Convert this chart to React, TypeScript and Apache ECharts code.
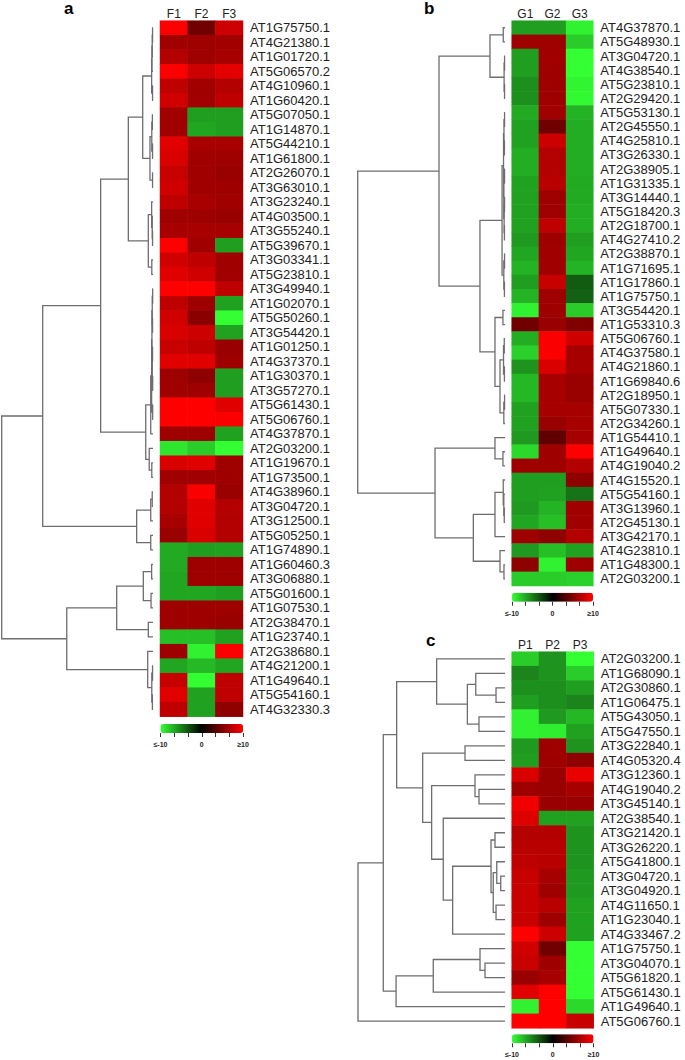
import React, { useEffect, useRef } from 'react';
import * as echarts from 'echarts';

// ---------- Panel a ----------
const condA = ['F1', 'F2', 'F3'];
const genesA = [
  'AT1G75750.1', 'AT4G21380.1', 'AT1G01720.1', 'AT5G06570.2', 'AT4G10960.1', 'AT1G60420.1',
  'AT5G07050.1', 'AT1G14870.1', 'AT5G44210.1', 'AT1G61800.1', 'AT2G26070.1', 'AT3G63010.1',
  'AT3G23240.1', 'AT4G03500.1', 'AT3G55240.1', 'AT5G39670.1', 'AT3G03341.1', 'AT5G23810.1',
  'AT3G49940.1', 'AT1G02070.1', 'AT5G50260.1', 'AT3G54420.1', 'AT1G01250.1', 'AT4G37370.1',
  'AT1G30370.1', 'AT3G57270.1', 'AT5G61430.1', 'AT5G06760.1', 'AT4G37870.1', 'AT2G03200.1',
  'AT1G19670.1', 'AT1G73500.1', 'AT4G38960.1', 'AT3G04720.1', 'AT3G12500.1', 'AT5G05250.1',
  'AT1G74890.1', 'AT1G60460.3', 'AT3G06880.1', 'AT5G01600.1', 'AT1G07530.1', 'AT2G38470.1',
  'AT1G23740.1', 'AT2G38680.1', 'AT4G21200.1', 'AT1G49640.1', 'AT5G54160.1', 'AT4G32330.3',
];
const valsA = [
  [9.8, 4.4, 8.0], [6.3, 6.2, 6.3], [7.0, 6.2, 6.5], [9.8, 8.0, 9.0], [7.5, 6.3, 7.0], [8.2, 6.3, 7.5],
  [6.3, -6.2, -6.2], [6.3, -6.5, -6.2], [8.8, 6.6, 6.6], [8.5, 6.3, 6.2], [7.8, 6.3, 6.0], [8.2, 6.3, 6.2],
  [7.5, 6.6, 6.3], [6.3, 6.2, 6.0], [6.6, 6.6, 6.5], [10, 6.3, -6.2], [8.2, 7.5, 6.3], [8.8, 8.2, 6.3],
  [10, 10, 7.5], [7.5, 6.2, -6.3], [8.2, 5.4, -10], [8.5, 8.0, -6.3], [7.8, 7.5, 6.0], [8.8, 8.8, 6.2],
  [6.2, 5.6, -6.2], [6.3, 6.2, -6.2], [10, 10, 8.8], [10, 10, 9.8], [6.2, 6.2, -6.3], [-9, -8, -10],
  [8.5, 8.8, 6.2], [6.3, 6.3, 6.2], [7.0, 9.8, 6.0], [7.0, 8.8, 7.0], [6.6, 8.8, 7.0], [6.0, 8.5, 7.0],
  [-6.7, -6.2, -6.3], [-6.7, 6.2, 6.2], [-6.5, 6.2, 6.2], [-6.5, -6.5, -6.2], [6.2, 6.2, 6.2], [6.2, 6.2, 6.0],
  [-7.5, -7.5, -6.3], [6.2, -9.5, 9.8], [-6.5, -7.3, -6.5], [7.8, -10, 7.5], [8.8, -6.3, 7.5], [7.5, -6.3, 5.6],
];
// tree node: [height, left, right]; leaf = row number (1-based)
const treeA: any = [100,
  [72.9,
    [34.6,
      [16.3,
        [6.8,
          [0.9, [0.7, [0.5, [0.3, 1, 2], 3], 4], [0.3, 5, 6]],
          [2.0, [0.8, [0.4, 7, 8], [0.3, 9, 10]], [0.3, 11, 12]]],
        [3.1, [0.9, 13, [0.5, 14, [0.3, 15, 16]]], [0.8, 17, 18]]],
      [4.8,
        [1.5, [0.9, [0.7, [0.5, [0.2, 19, 20], [0.3, 21, 22]], [0.5, [0.3, 23, 24], [0.2, 25, 26]]], [0.2, 27, 28]], 29],
        [2.5, 30, [0.8, 31, 32]]]],
    [10.8, [1.5, [0.5, 33, 34], 35], [1.5, 36, 37]]],
  [57.0,
    [24.0, [6.4, [0.9, 38, 39], [1.3, 40, 41]], [3.1, 42, 43]],
    [3.5, 44, [0.8, [0.3, 45, 46], [0.4, 47, 48]]]],
];

// ---------- Panel b ----------
const condB = ['G1', 'G2', 'G3'];
const genesB = [
  'AT4G37870.1', 'AT5G48930.1', 'AT3G04720.1', 'AT4G38540.1', 'AT5G23810.1', 'AT2G29420.1',
  'AT5G53130.1', 'AT2G45550.1', 'AT4G25810.1', 'AT3G26330.1', 'AT2G38905.1', 'AT1G31335.1',
  'AT3G14440.1', 'AT5G18420.3', 'AT2G18700.1', 'AT4G27410.2', 'AT2G38870.1', 'AT1G71695.1',
  'AT1G17860.1', 'AT1G75750.1', 'AT3G54420.1', 'AT1G53310.3', 'AT5G06760.1', 'AT4G37580.1',
  'AT4G21860.1', 'AT1G69840.6', 'AT2G18950.1', 'AT5G07330.1', 'AT2G34260.1', 'AT1G54410.1',
  'AT1G49640.1', 'AT4G19040.2', 'AT4G15520.1', 'AT5G54160.1', 'AT3G13960.1', 'AT2G45130.1',
  'AT3G42170.1', 'AT4G23810.1', 'AT1G48300.1', 'AT2G03200.1',
];
const valsB = [
  [-6.2, -6.2, -9.5], [6.2, 6.2, -8.0], [-6.2, 6.3, -10], [-6.2, 6.2, -10], [-5.6, 6.2, -9.6], [-5.6, 6.2, -9.8],
  [-6.7, 6.3, -7.0], [-6.3, 4.4, -6.8], [-6.3, 8.0, -6.8], [-6.8, 7.0, -6.8], [-6.8, 7.0, -6.8], [-6.3, 7.2, -6.7],
  [-6.3, 6.2, -6.7], [-6.3, 6.2, -6.8], [-6.3, 7.5, -6.8], [-6.0, 6.2, -6.2], [-6.5, 6.3, -6.5], [-7.0, 6.3, -7.0],
  [-6.2, 7.8, -3.6], [-7.0, 6.2, -3.8], [-9.5, 6.2, -8.0], [4.4, 6.0, 5.0], [-6.8, 9.8, 8.2], [-8.2, 9.8, 6.5],
  [-5.8, 8.6, 6.5], [-7.2, 6.5, 6.0], [-7.2, 6.5, 6.0], [-6.3, 6.5, 6.5], [-6.3, 6.0, 6.5], [-6.0, 3.8, 6.5],
  [-8.5, 6.2, 10], [6.2, 6.2, 7.0], [-6.2, -6.2, 5.6], [-6.2, -6.3, -4.5], [-6.0, -7.0, 6.3], [-6.5, -7.5, 6.3],
  [6.2, 5.6, 7.0], [-6.0, -7.5, -6.3], [5.6, -9.5, 6.2], [-8.0, -8.0, -8.2],
];
const treeB: any = [100,
  [44.8,
    [10.2, [1.2, 1, 2], [0.6, [0.3, 3, 4], [0.3, 5, 6]]],
    [17.0,
      [2.0,
        [1.0, [0.7, [0.3, 7, 8], [0.4, 9, 10]], [0.8, [0.3, 11, 12], [0.6, [0.3, 13, 14], [0.4, 15, 16]]]],
        [0.8, [0.3, 17, 18], [0.4, 19, 20]]],
      [6.8, [1.4, 21, 22], [3.4, [1.0, [0.5, 23, 24], [0.4, 25, 26]], [0.8, [0.3, 27, 28], 29]]]]],
  [47.5,
    [6.8, 30, [1.4, 31, 32]],
    [21.5, [6.8, [1.2, 33, [0.8, 34, [0.5, 35, 36]]], 37], [3.4, 38, [0.7, 39, 40]]]],
];

// ---------- Panel c ----------
const condC = ['P1', 'P2', 'P3'];
const genesC = [
  'AT2G03200.1', 'AT1G68090.1', 'AT2G30860.1', 'AT1G06475.1', 'AT5G43050.1', 'AT5G47550.1',
  'AT3G22840.1', 'AT4G05320.4', 'AT3G12360.1', 'AT4G19040.2', 'AT3G45140.1', 'AT2G38540.1',
  'AT3G21420.1', 'AT3G26220.1', 'AT5G41800.1', 'AT3G04720.1', 'AT3G04920.1', 'AT4G11650.1',
  'AT1G23040.1', 'AT4G33467.2', 'AT1G75750.1', 'AT3G04070.1', 'AT5G61820.1', 'AT5G61430.1',
  'AT1G49640.1', 'AT5G06760.1',
];
const valsC = [
  [-8.0, -5.8, -10], [-5.2, -5.8, -8.0], [-5.6, -5.6, -6.2], [-6.2, -5.6, -5.2], [-9.5, -6.0, -7.2], [-9.5, -9.3, -6.3],
  [-6.0, 6.2, -5.8], [-6.2, 6.2, 5.6], [8.5, 6.0, 9.2], [6.2, 6.0, 6.5], [9.4, 6.0, 6.0], [8.7, -6.3, -6.3],
  [7.0, 7.0, -5.8], [7.2, 7.2, -5.8], [7.5, 7.2, -5.8], [7.8, 6.5, -6.0], [7.8, 6.2, -6.0], [7.8, 7.2, -6.3],
  [7.8, 6.2, -6.3], [10, 8.0, -6.3], [8.2, 4.4, -10], [7.8, 6.2, -10], [6.0, 6.5, -10], [8.8, 10, -10],
  [-9.5, 10, -8.5], [10, 10, 7.8],
];
const treeC: any = [100,
  [82.8,
    [73.7,
      [46.5, 1, [25.6, [19.9, 2, [6.1, 3, 4]], [17.7, 5, 6]]],
      [56.0,
        [27.2, 7, 8],
        [49.9,
          [20.4, 9, [17.7, 10, 11]],
          [42.0, 12, [35.6, [9.5, [6.8, 13, 14], [8.0, [5.6, 15, [2.9, 16, 17]], [6.1, 18, 19]]], 20]]]]],
    [74.1, [48.8, [17.0, 21, [13.6, 22, 23]], 24], 25]],
  26];

const scaleTicks = ['≤-10', '0', '≥10'];
const scaleMin = -10;
const scaleMax = 10;
const heatColors = ['#33ff33', '#000000', '#ff0000'];

const FONT = 'Liberation Sans, Arial, sans-serif';

function buildTree(node: any, out: number[][]): { y: number; h: number } {
  if (typeof node === 'number') return { y: node - 0.5, h: 0 };
  const [h, a, b] = node;
  const ca = buildTree(a, out);
  const cb = buildTree(b, out);
  out.push([h, ca.y, ca.h, cb.y, cb.h]);
  return { y: (ca.y + cb.y) / 2, h };
}

const panels = [
  {
    letter: 'a', letterPos: { left: 64, top: 0 }, cond: condA, genes: genesA, vals: valsA, tree: treeA,
    heat: { left: 160, top: 20.7, width: 83, height: 696 },
    dendro: { left: 1.7, top: 20.7, width: 151.3, height: 696 },
    bar: { left: 160.5, top: 724, width: 82.5, height: 9 },
  },
  {
    letter: 'b', letterPos: { left: 424, top: 0 }, cond: condB, genes: genesB, vals: valsB, tree: treeB,
    heat: { left: 511.7, top: 20.7, width: 81.6, height: 565.3 },
    dendro: { left: 357.7, top: 20.7, width: 147.3, height: 565.3 },
    bar: { left: 512, top: 592.7, width: 81, height: 9 },
  },
  {
    letter: 'c', letterPos: { left: 426, top: 632 }, cond: condC, genes: genesC, vals: valsC, tree: treeC,
    heat: { left: 511.7, top: 651.7, width: 82, height: 376.6 },
    dendro: { left: 358, top: 651.7, width: 147, height: 376.6 },
    bar: { left: 512, top: 1034.3, width: 81.5, height: 9 },
  },
];

function buildOption() {
  const grid: any[] = [];
  const xAxis: any[] = [];
  const yAxis: any[] = [];
  const series: any[] = [];
  const visualMap: any[] = [];
  const title: any[] = [];

  panels.forEach((p, pi) => {
    const gHeat = grid.length;
    grid.push({ ...p.heat, containLabel: false, outerBoundsMode: 'none' });
    grid.push({ ...p.dendro, containLabel: false, outerBoundsMode: 'none' });
    grid.push({ ...p.bar, containLabel: false, outerBoundsMode: 'none' });

    // heatmap axes
    xAxis.push({
      type: 'category', gridIndex: gHeat, data: p.cond, position: 'top',
      axisLine: { show: false }, axisTick: { show: false }, splitLine: { show: false },
      axisLabel: { fontSize: 12, color: '#222', margin: 1, fontFamily: FONT, interval: 0 },
    });
    yAxis.push({
      type: 'category', gridIndex: gHeat, data: p.genes, inverse: true, position: 'right',
      axisLine: { show: false }, axisTick: { show: false }, splitLine: { show: false },
      axisLabel: { fontSize: 13, color: '#222', margin: 7, fontFamily: FONT, interval: 0 },
    });
    // dendrogram axes
    xAxis.push({ type: 'value', gridIndex: gHeat + 1, min: 0, max: 100, inverse: true, show: false });
    yAxis.push({ type: 'value', gridIndex: gHeat + 1, min: 0, max: p.genes.length, inverse: true, show: false });
    // colour bar axes
    xAxis.push({
      type: 'value', gridIndex: gHeat + 2, min: scaleMin, max: scaleMax, interval: (scaleMax - scaleMin) / 6,
      position: 'bottom',
      axisLine: { show: false }, splitLine: { show: false },
      axisTick: { show: true, length: 4, lineStyle: { color: '#333', width: 1 } },
      axisLabel: {
        fontSize: 7, color: '#222', margin: 8, fontFamily: FONT, fontWeight: 'bold',
        formatter: (v: number) => {
          if (Math.abs(v - scaleMin) < 0.01) return scaleTicks[0];
          if (Math.abs(v) < 0.01) return scaleTicks[1];
          if (Math.abs(v - scaleMax) < 0.01) return scaleTicks[2];
          return '';
        },
      },
    });
    yAxis.push({ type: 'value', gridIndex: gHeat + 2, show: false, min: 0, max: 1 });

    const data: number[][] = [];
    p.vals.forEach((row, i) => row.forEach((v, j) => data.push([j, i, v])));
    const heatIdx = series.length;
    series.push({
      type: 'heatmap', xAxisIndex: gHeat, yAxisIndex: gHeat, data,
      itemStyle: { borderWidth: 0 }, emphasis: { disabled: true }, progressive: 0, silent: true,
    });

    const segs: number[][] = [];
    buildTree(p.tree, segs);
    series.push({
      type: 'custom', xAxisIndex: gHeat + 1, yAxisIndex: gHeat + 1, data: segs, silent: true,
      encode: { x: [0, 2, 4], y: [1, 3] },
      renderItem: (params: any, api: any) => {
        const h = api.value(0), y1 = api.value(1), h1 = api.value(2), y2 = api.value(3), h2 = api.value(4);
        const pts = [api.coord([h1, y1]), api.coord([h, y1]), api.coord([h, y2]), api.coord([h2, y2])];
        return {
          type: 'polyline',
          shape: { points: pts },
          style: { stroke: '#6e6e6e', lineWidth: 1.3, fill: null },
        };
      },
    });

    visualMap.push({
      type: 'continuous', min: scaleMin, max: scaleMax, seriesIndex: heatIdx, orient: 'horizontal',
      left: p.bar.left, top: p.bar.top, itemWidth: p.bar.height, itemHeight: p.bar.width,
      padding: 0, calculable: false, hoverLink: false, show: true,
      inRange: { color: heatColors },
    });

    title.push({
      text: p.letter, left: p.letterPos.left, top: p.letterPos.top, padding: 0,
      textStyle: { fontSize: 17, fontWeight: 'bold', color: '#000', fontFamily: FONT },
    });
  });

  return {
    animation: false,
    backgroundColor: '#ffffff',
    textStyle: { fontFamily: FONT },
    title, grid, xAxis, yAxis, series, visualMap,
  };
}

export default function App() {
  const ref = useRef<HTMLDivElement>(null);
  useEffect(() => {
    const chart = echarts.init(ref.current as HTMLDivElement, null, { renderer: 'svg' });
    chart.setOption(buildOption() as any);
    return () => chart.dispose();
  }, []);
  return (
    <div
      ref={ref}
      style={{ position: 'absolute', left: 0, top: 0, width: 685, height: 1060, background: '#fff' }}
    />
  );
}
